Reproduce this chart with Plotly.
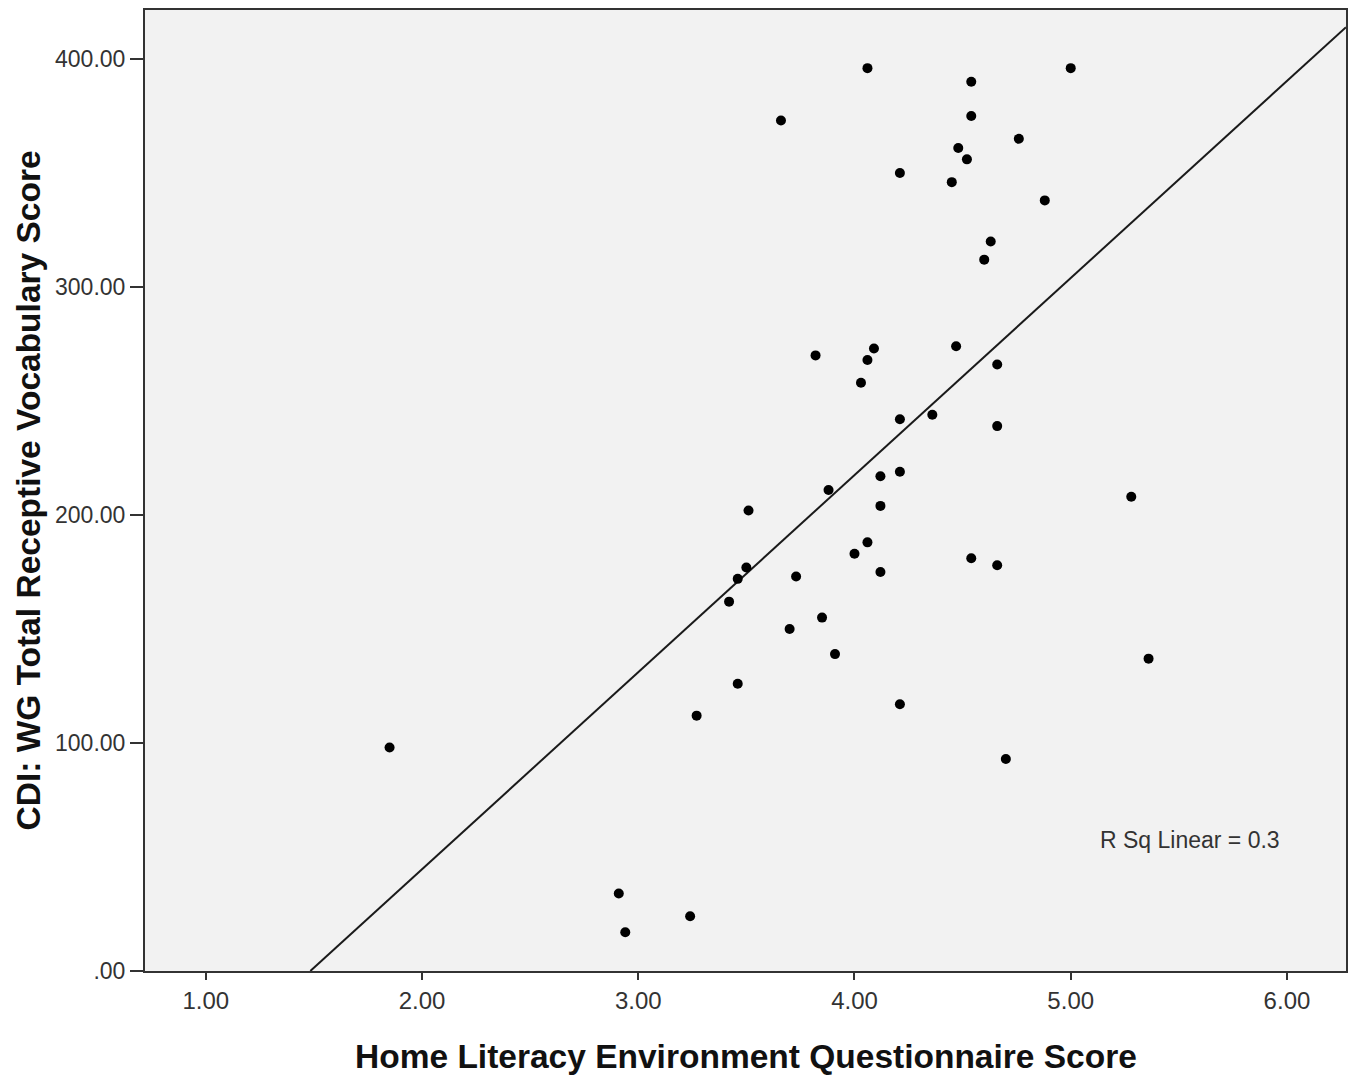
import numpy as np
import plotly.graph_objects as go

# Home Literacy Environment Questionnaire Score
hle_score = [1.85, 2.91, 2.94, 3.24, 3.27, 3.42, 3.46, 3.46, 3.50, 3.51,
             3.66, 3.70, 3.73, 3.82, 3.85, 3.88, 3.91, 4.00, 4.03, 4.06,
             4.06, 4.06, 4.09, 4.12, 4.12, 4.12, 4.21, 4.21, 4.21, 4.21,
             4.36, 4.45, 4.47, 4.48, 4.52, 4.54, 4.54, 4.54, 4.60, 4.63,
             4.66, 4.66, 4.66, 4.70, 4.76, 4.88, 5.00, 5.28, 5.36]
# CDI: WG Total Receptive Vocabulary Score
cdi_score = [98, 34, 17, 24, 112, 162, 126, 172, 177, 202,
             373, 150, 173, 270, 155, 211, 139, 183, 258, 188,
             396, 268, 273, 217, 204, 175, 350, 242, 219, 117,
             244, 346, 274, 361, 356, 390, 375, 181, 312, 320,
             266, 239, 178, 93, 365, 338, 396, 208, 137]

x_tickvals = [1, 2, 3, 4, 5, 6]
x_ticktext = ["1.00", "2.00", "3.00", "4.00", "5.00", "6.00"]
y_tickvals = [0, 100, 200, 300, 400]
y_ticktext = [".00", "100.00", "200.00", "300.00", "400.00"]
x_range = [0.719, 6.273]
y_range = [0, 421.5]
r_sq_label = "R Sq Linear = 0.3"

slope, intercept = np.polyfit(hle_score, cdi_score, 1)
x0 = -intercept / slope
line_x = [x0, x_range[1]]
line_y = [slope * v + intercept for v in line_x]

fig = go.Figure()
fig.add_trace(go.Scatter(x=line_x, y=line_y, mode="lines",
                         line=dict(color="#1a1a1a", width=2),
                         hoverinfo="skip", showlegend=False))
fig.add_trace(go.Scatter(x=hle_score, y=cdi_score, mode="markers",
                         marker=dict(color="black", size=10),
                         showlegend=False))

W, H = 1349, 1073
L, R, T, B = 137, 11, 0, 110
pw, ph = W - L - R, H - T - B

fig.update_layout(
    width=W, height=H,
    margin=dict(l=L, r=R, t=T, b=B),
    paper_bgcolor="white",
    plot_bgcolor="#f2f2f2",
    font=dict(family="Liberation Sans, Arial, sans-serif", color="#333333"),
    xaxis=dict(range=x_range, tickvals=x_tickvals, ticktext=x_ticktext,
               showgrid=False, zeroline=False, showline=True, mirror=True,
               linecolor="#333333", linewidth=2, ticks="outside", ticklen=7,
               tickwidth=2, tickcolor="#333333",
               tickfont=dict(size=24, color="#333333")),
    yaxis=dict(range=y_range, tickvals=y_tickvals, ticktext=y_ticktext,
               showgrid=False, zeroline=False, showline=True, mirror=True,
               linecolor="#333333", linewidth=2, ticks="outside", ticklen=13,
               tickwidth=2, tickcolor="#333333",
               tickfont=dict(size=23, color="#333333")),
    annotations=[
        dict(text="<b>Home Literacy Environment Questionnaire Score</b>",
             xref="paper", yref="paper", x=0.5, y=-(1057 - 971) / ph,
             xanchor="center", yanchor="middle", showarrow=False,
             font=dict(size=33.5, color="#111111")),
        dict(text="<b>CDI: WG Total Receptive Vocabulary Score</b>",
             xref="paper", yref="paper", x=-(145 - 28) / pw, y=0.5,
             textangle=-90,
             xanchor="center", yanchor="middle", showarrow=False,
             font=dict(size=33.5, color="#111111")),
        dict(text=r_sq_label, xref="paper", yref="paper",
             x=(1190 - 145) / pw, y=(971 - 840) / ph,
             xanchor="center", yanchor="middle", showarrow=False,
             font=dict(size=23, color="#333333")),
    ],
)

fig.write_html("out.html")
